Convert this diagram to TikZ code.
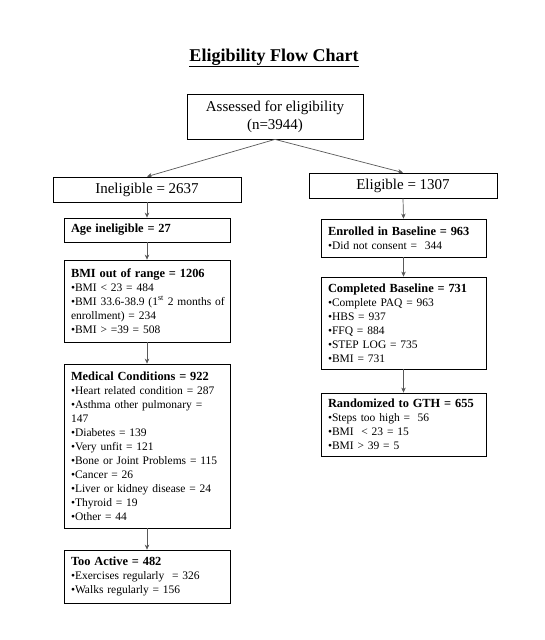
\documentclass[tikz,border=0pt]{standalone}
\usepackage{fontspec}
\setmainfont{Liberation Serif}
\usetikzlibrary{arrows.meta}
\newcommand\boxhead[1]{\mbox{\bfseries\fontsize{12.4}{14}\selectfont #1}}
\begin{document}
\begin{tikzpicture}[x=1pt,y=-1pt,
  box/.style={draw=black, line width=0.8pt, fill=white, inner xsep=7pt, inner ysep=2pt},
  bigbox/.style={box, font=\fontsize{15}{18}\selectfont, align=center},
  listbox/.style={box, align=left, font=\fontsize{11.5}{14}\selectfont},
  lcol/.style={listbox, minimum width=166pt, text width=152pt},
  rcol/.style={listbox, minimum width=165pt, text width=151pt},
  conn/.style={draw=black!65, line width=0.7pt, -{Stealth[length=5pt,width=4.5pt,fill=black]}},
]
\useasboundingbox (0,0) rectangle (544,640);
\fill[white] (0,0) rectangle (544,640);
\node[font=\bfseries\fontsize{18}{22}\selectfont, anchor=base] (title) at (274,61) {\underline{Eligibility Flow Chart}};

\node[bigbox, minimum width=176pt, minimum height=45pt] (assess) at (275,116.5) {Assessed for eligibility\\(n=3944)};
\node[bigbox, minimum width=188pt, minimum height=25pt] (inel) at (147,189.5) {Ineligible = 2637};
\node[bigbox, minimum width=188pt, minimum height=25pt] (elig) at (403,185.5) {Eligible = 1307};

\node[lcol, minimum height=24pt] (age) at (147,230) {\boxhead{Age ineligible = 27}};
\node[lcol, minimum height=82pt] (bmi) at (147,301) {\boxhead{BMI out of range = 1206}\\
\textbullet BMI < 23 = 484\\
\mbox{\textbullet BMI 33.6-38.9 (1\textsuperscript{st} 2 months of}\\
enrollment) = 234\\
\textbullet BMI > =39 = 508};
\node[lcol, minimum height=164pt] (med) at (147,446) {\boxhead{Medical Conditions = 922}\\
\textbullet Heart related condition = 287\\
\textbullet Asthma other pulmonary =\\
147\\
\textbullet Diabetes = 139\\
\textbullet Very unfit = 121\\
\mbox{\textbullet Bone or Joint Problems = 115}\\
\textbullet Cancer = 26\\
\textbullet Liver or kidney disease = 24\\
\textbullet Thyroid = 19\\
\textbullet Other = 44};
\node[lcol, minimum height=53pt] (active) at (147,576.5) {\boxhead{Too Active = 482}\\
\textbullet Exercises regularly \ = 326\\
\textbullet Walks regularly = 156};

\node[rcol, minimum height=38pt] (enrol) at (403.5,238) {\boxhead{Enrolled in Baseline = 963}\\
\textbullet Did not consent = \ 344};
\node[rcol, minimum height=92pt] (compl) at (403.5,323) {\boxhead{Completed Baseline = 731}\\
\textbullet Complete PAQ = 963\\
\textbullet HBS = 937\\
\textbullet FFQ = 884\\
\textbullet STEP LOG = 735\\
\textbullet BMI = 731};
\node[rcol, minimum height=63pt] (rand) at (403.5,424.5) {\boxhead{Randomized to GTH = 655}\\
\textbullet Steps too high = \ 56\\
\textbullet BMI \ < 23 = 15\\
\textbullet BMI > 39 = 5};

\draw[conn] (assess.south) -- (inel.north);
\draw[conn] (assess.south) -- (elig.north);
\draw[conn] (inel.south) -- (age.north);
\draw[conn] (age.south) -- (bmi.north);
\draw[conn] (bmi.south) -- (med.north);
\draw[conn] (med.south) -- (active.north);
\draw[conn] (elig.south) -- (enrol.north);
\draw[conn] (enrol.south) -- (compl.north);
\draw[conn] (compl.south) -- (rand.north);
\end{tikzpicture}
\end{document}
